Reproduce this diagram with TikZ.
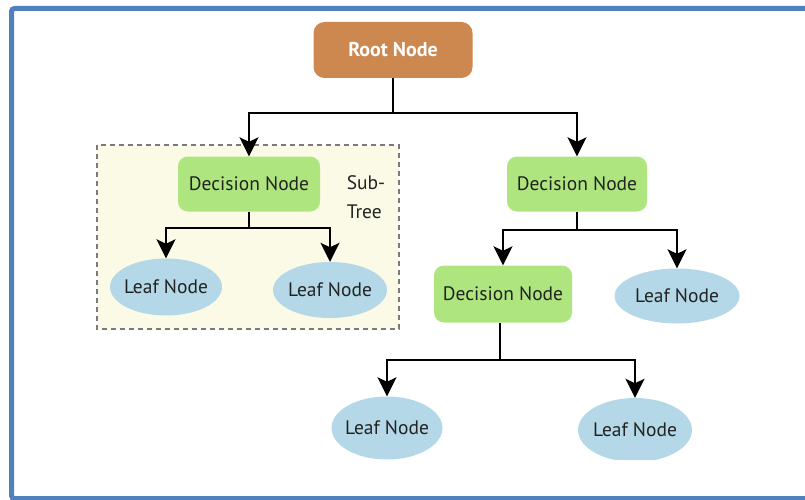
\documentclass[tikz,border=0pt]{standalone}
\usepackage{fontspec}
\setmainfont{PT Sans}
\usetikzlibrary{arrows.meta,shapes.geometric}
\definecolor{frameblue}{HTML}{4F81BD}
\definecolor{rootfill}{HTML}{CD8850}
\definecolor{decfill}{HTML}{AEE57E}
\definecolor{leaffill}{HTML}{B4D8E7}
\definecolor{subfill}{HTML}{FAFAE6}
\definecolor{subline}{HTML}{7A7A7A}
\definecolor{txt}{HTML}{222222}
\newcommand{\labelfont}{\fontsize{19.5}{22}\selectfont}
% leaf text is given no width, so the ellipse keeps its set size
\newcommand{\leaftext}[1]{\makebox[0pt]{#1}}
\tikzset{
  x=1pt, y=-1pt,
  rootbox/.style={rectangle, rounded corners=11pt, fill=rootfill, text=white,
    font=\fontsize{20}{22}\bfseries\selectfont, inner sep=0pt},
  decbox/.style={rectangle, rounded corners=10pt, fill=decfill, text=txt,
    font=\labelfont, inner sep=0pt},
  leaf/.style={ellipse, fill=leaffill, text=txt, font=\labelfont, inner sep=0pt},
  arr/.style={line width=2pt, -{Stealth[length=19pt,width=19pt,inset=4.5pt]}},
  link/.style={line width=2pt},
}
\begin{document}
\begin{tikzpicture}
\useasboundingbox (0,0) rectangle (805,500);
\clip (0,0) rectangle (805,500);
% outer frame, open on the right
\draw[frameblue, line width=5pt, rounded corners=3pt]
  (830,8.5) -- (11.5,8.5) -- (11.5,498.5) -- (830,498.5);

% sub-tree area
\draw[subline, fill=subfill, line width=1.3pt, dash pattern=on 5pt off 4pt]
  (97,145) rectangle (399,329);
\node[text=txt, font=\fontsize{19.5}{29}\selectfont, align=left] (subtxt) at (366,197) {Sub-\\Tree};

% nodes
\node[rootbox, minimum width=159pt, minimum height=56pt] (root) at (393,50) {Root Node};
\node[decbox, minimum width=142pt, minimum height=55pt] (dl) at (249,184) {Decision Node};
\node[decbox, minimum width=140pt, minimum height=55pt] (dr) at (577,184) {Decision Node};
\node[decbox, minimum width=138pt, minimum height=57pt] (dm) at (503,294) {Decision Node};
\node[leaf, minimum width=112pt, minimum height=57pt] (l1) at (166,287) {\leaftext{Leaf Node}};
\node[leaf, minimum width=114pt, minimum height=56pt] (l2) at (330,290) {\leaftext{Leaf Node}};
\node[leaf, minimum width=125pt, minimum height=55pt] (l3) at (677,296) {\leaftext{Leaf Node}};
\begin{scope}
  \clip (0,0) rectangle (805,459);
  \node[leaf, minimum width=111pt, minimum height=63pt] (l4) at (387,428) {\leaftext{Leaf Node}};
  \node[leaf, minimum width=114pt, minimum height=64pt] (l5) at (635,430) {\leaftext{Leaf Node}};
\end{scope}

% connectors
\coordinate (j0) at (393,113);
\coordinate (j1) at (249,228);
\coordinate (j2) at (577,230);
\coordinate (j3) at (500,360);
\draw[link] (root.south) -- (j0);
\draw[arr] (j0) -| (dl.north);
\draw[arr] (j0) -| (dr.north);
\draw[link] (dl.south) -- (j1);
\draw[arr] (j1) -| (l1.north);
\draw[arr] (j1) -| (l2.north);
\draw[link] (dr.south) -- (j2);
\draw[arr] (j2) -| (dm.north);
\draw[arr] (j2) -| (l3.north);
\draw[link] (dm.south -| j3) -- (j3);
\draw[arr] (j3) -| (l4.north);
\draw[arr] (j3) -| (l5.north);
\end{tikzpicture}
\end{document}
